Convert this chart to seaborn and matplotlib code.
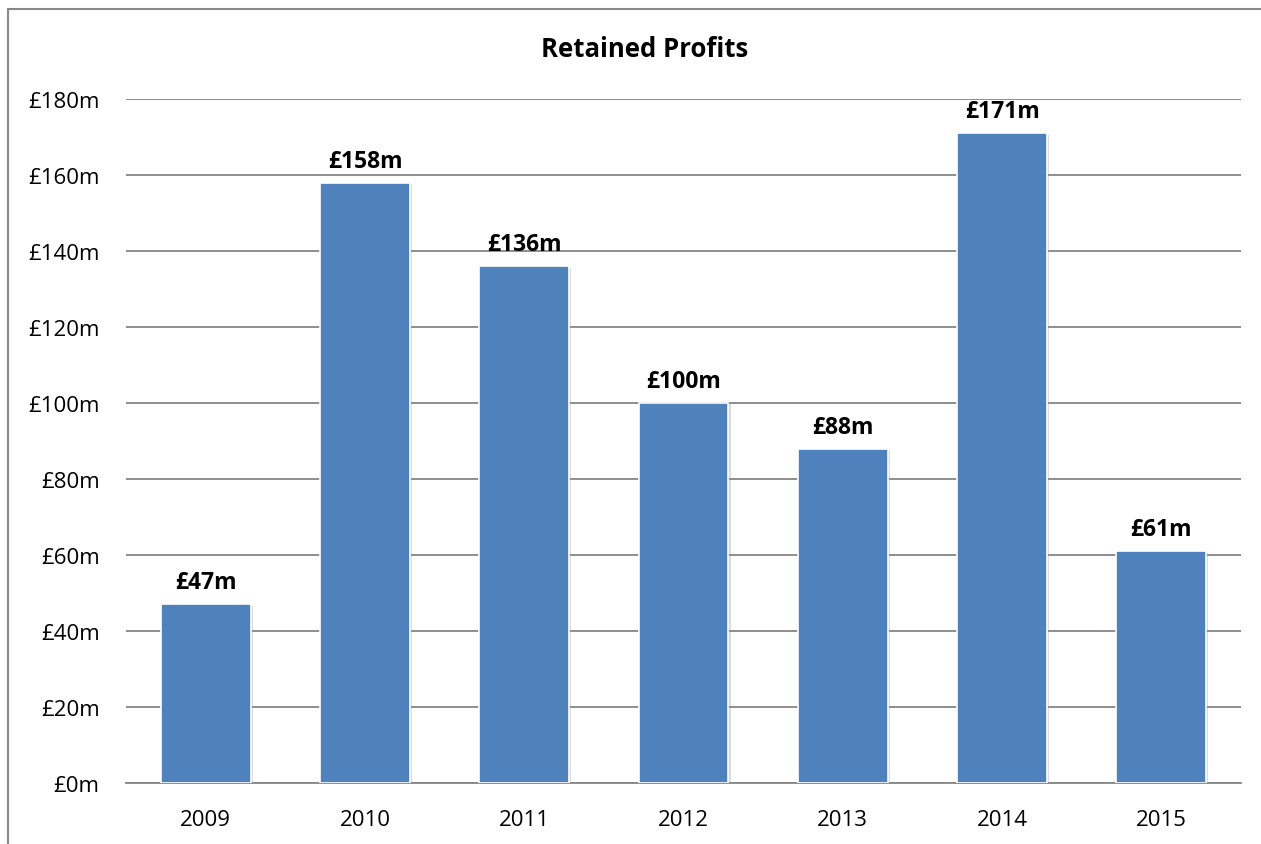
import matplotlib
matplotlib.use("Agg")
import matplotlib.pyplot as plt
import matplotlib.patheffects as pe
import seaborn as sns
import pandas as pd

years = ["2009", "2010", "2011", "2012", "2013", "2014", "2015"]
profits = [47, 158, 136, 100, 88, 171, 61]
value_labels = ["£47m", "£158m", "£136m", "£100m", "£88m", "£171m", "£61m"]
y_ticks = [0, 20, 40, 60, 80, 100, 120, 140, 160, 180]
y_tick_labels = ["£0m", "£20m", "£40m", "£60m", "£80m", "£100m", "£120m", "£140m", "£160m", "£180m"]
title = "Retained Profits"

sns.set_theme(style="white")
plt.rcParams["font.family"] = ["Open Sans", "DejaVu Sans"]

df = pd.DataFrame({"year": years, "profit": profits})

fig = plt.figure(figsize=(12.61, 8.45), dpi=100)
ax = fig.add_axes([126 / 1261, 1 - 784 / 845, (1241 - 126) / 1261, (784 - 100) / 845])

sns.barplot(data=df, x="year", y="profit", color="#4F81BD", saturation=1,
            width=0.565, edgecolor="white", linewidth=1.2, ax=ax, zorder=3)

shadow = [pe.SimplePatchShadow(offset=(1.5, -1.0), shadow_rgbFace="#9a9a9a", alpha=0.35), pe.Normal()]
for patch in ax.patches:
    patch.set_path_effects(shadow)

for patch, lab in zip(ax.patches, value_labels):
    ax.annotate(lab, (patch.get_x() + patch.get_width() / 2, patch.get_height()),
                xytext=(0, 11.5), textcoords="offset points", ha="center", va="baseline",
                fontsize=16.5, fontweight="bold", color="black")

ax.set_ylim(0, 180)
ax.set_yticks(y_ticks)
ax.set_yticklabels(y_tick_labels)
ax.set_xlim(-0.5, len(years) - 0.5)
ax.set_xlabel("")
ax.set_ylabel("")
ax.yaxis.grid(True, color="#868686", linewidth=1.3, zorder=0)
ax.set_axisbelow(True)
for side in ["left", "right", "top"]:
    ax.spines[side].set_visible(False)
ax.spines["bottom"].set_color("#868686")
ax.spines["bottom"].set_linewidth(1.3)
ax.tick_params(axis="both", length=0, labelsize=16, colors="black")
ax.tick_params(axis="y", pad=19)
ax.tick_params(axis="x", pad=18.5)

fig.text(645 / 1261, 1 - 57 / 845, title, ha="center", va="baseline",
         fontsize=18.5, fontweight="bold", color="black")

# outer chart border (left and top edges visible)
fig.add_artist(plt.Line2D([8 / 1261, 8 / 1261], [0, 1 - 10 / 845], color="#888888", linewidth=1.5))
fig.add_artist(plt.Line2D([8 / 1261, 1], [1 - 10 / 845, 1 - 10 / 845], color="#888888", linewidth=1.5))

fig.savefig("out.png", dpi=100, facecolor="white")
